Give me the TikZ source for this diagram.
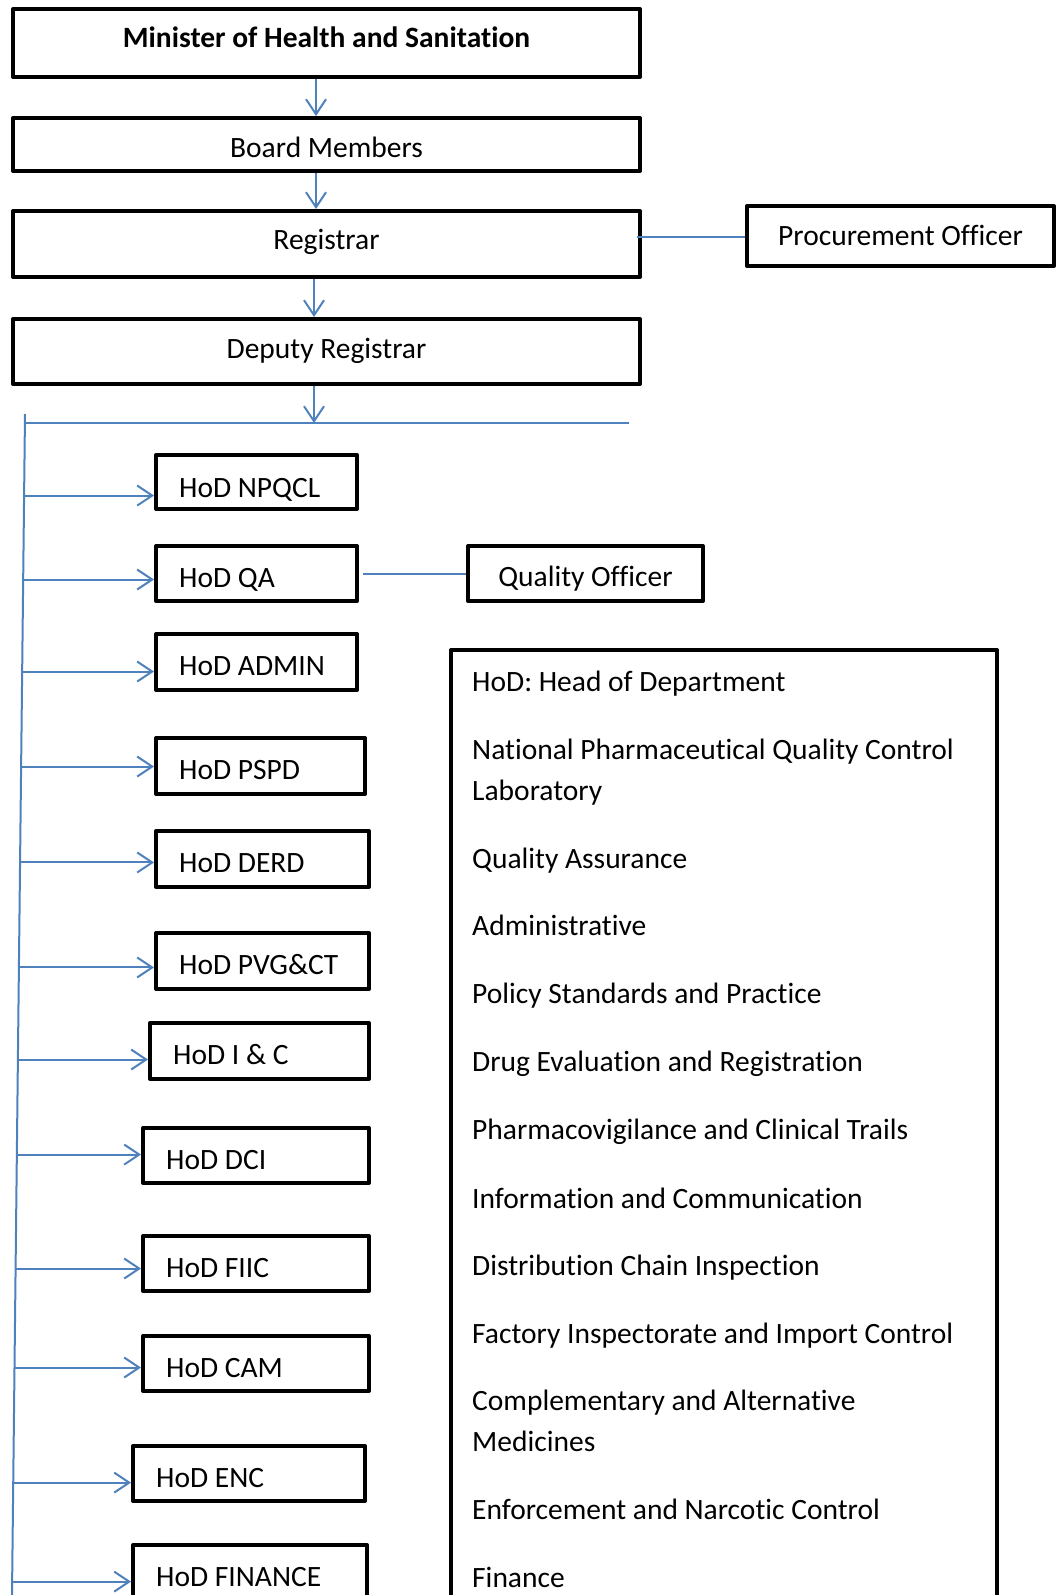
\documentclass[tikz,border=0pt]{standalone}
\usepackage{fontspec}
\setmainfont{Carlito}[Ligatures={NoCommon}]
\usetikzlibrary{arrows.meta,calc}
\definecolor{lineblue}{RGB}{79,129,189}
\begin{document}
\begin{tikzpicture}[x=1pt,y=-1pt,
  box/.style={draw=black, line width=4pt, line join=round, inner sep=0pt, anchor=north west},
  txt/.style={font=\fontsize{29.5}{35}\selectfont, inner sep=0pt},
  ctxt/.style={txt, anchor=base},
  ltxt/.style={txt, anchor=base west},
  conn/.style={draw=lineblue, line width=2pt},
  arr/.style={conn, -{Straight Barb[length=15pt,width=20pt]}}]
\useasboundingbox (0,0) rectangle (1058,1595);
\fill[white] (0,0) rectangle (1058,1595);

% top chain
\node[box, minimum width=627pt, minimum height=68pt] (min) at (11,7) {};
\node[ctxt, font=\fontsize{29.5}{35}\selectfont\bfseries] (tmin) at (326.5,48) {Minister of Health and Sanitation};
\node[box, minimum width=627pt, minimum height=53pt] (board) at (11,116) {};
\node[ctxt] (tboard) at (326.5,157) {Board Members};
\node[box, minimum width=627pt, minimum height=66pt] (reg) at (11,209) {};
\node[ctxt] (treg) at (326.5,249) {Registrar};
\node[box, minimum width=307pt, minimum height=60pt] (proc) at (745,204) {};
\node[ctxt] (tproc) at (900.5,245) {Procurement Officer};
\node[box, minimum width=627pt, minimum height=65pt] (dep) at (11,317) {};
\node[ctxt] (tdep) at (326.5,358) {Deputy Registrar};

\draw[arr] ([xshift=-10.5pt]min.south) -- ([xshift=-10.5pt]board.north);
\draw[arr] ([xshift=-10.5pt]board.south) -- ([xshift=-10.5pt]reg.north);
\draw[arr] ([xshift=-12.5pt]reg.south) -- ([xshift=-12.5pt]dep.north);
\draw[conn] ([yshift=7pt,xshift=-5pt]reg.east) -- ([yshift=7pt]reg.east -| proc.west);

% distribution lines
\coordinate (hl) at (25,423);
\coordinate (hr) at (629,423);
\coordinate (vt) at (25,414);
\coordinate (vb) at (12,1595);
\draw[conn] (hl) -- (hr);
\draw[conn] (vt) -- (vb);
\draw[arr] ([xshift=-12.5pt]dep.south) -- ([xshift=-12.5pt]dep.south |- hl);

% HoD boxes
\node[box, minimum width=201pt, minimum height=54pt] (npqcl) at (154,453) {};
\node[ltxt] (tnpqcl) at (179,497) {HoD NPQCL};
\node[box, minimum width=201pt, minimum height=55pt] (qa) at (154,544) {};
\node[ltxt] (tqa) at (179,587) {HoD QA};
\node[box, minimum width=235pt, minimum height=55pt] (qo) at (466,544) {};
\node[ctxt] (tqo) at (585.5,586) {Quality Officer};
\node[box, minimum width=201pt, minimum height=56pt] (admin) at (154,632) {};
\node[ltxt] (tadmin) at (179,675) {HoD ADMIN};
\node[box, minimum width=209pt, minimum height=56pt] (pspd) at (154,736) {};
\node[ltxt] (tpspd) at (179,779) {HoD PSPD};
\node[box, minimum width=213pt, minimum height=56pt] (derd) at (154,829) {};
\node[ltxt] (tderd) at (179,872) {HoD DERD};
\node[box, minimum width=213pt, minimum height=56pt] (pvg) at (154,931) {};
\node[ltxt] (tpvg) at (179,974) {HoD PVG\&CT};
\node[box, minimum width=219pt, minimum height=56pt] (ic) at (148,1021) {};
\node[ltxt] (tic) at (173,1064) {HoD I \& C};
\node[box, minimum width=226pt, minimum height=55pt] (dci) at (141,1126) {};
\node[ltxt] (tdci) at (166,1169) {HoD DCI};
\node[box, minimum width=226pt, minimum height=55pt] (fiic) at (141,1234) {};
\node[ltxt] (tfiic) at (166,1277) {HoD FIIC};
\node[box, minimum width=226pt, minimum height=55pt] (cam) at (141,1334) {};
\node[ltxt] (tcam) at (166,1377) {HoD CAM};
\node[box, minimum width=232pt, minimum height=55pt] (enc) at (131,1444) {};
\node[ltxt] (tenc) at (156,1487) {HoD ENC};
\node[box, minimum width=234pt, minimum height=55pt] (fin) at (131,1543) {};
\node[ltxt] (tfin) at (156,1586) {HoD FINANCE};

\draw[conn, shorten <=4pt] (qa.east) -- (qo.west);

% arrows from the vertical line
\foreach \b/\d in {npqcl/15, qa/7.5, admin/11, pspd/2, derd/5, pvg/8, ic/10, dci/0.5, fiic/6.5, cam/5.5, enc/10.5, fin/10.5}{
  \coordinate (f\b) at ($(vt)!([yshift=-\d pt]\b.west)!(vb)$);
  \draw[arr] (f\b) -- (f\b -| \b.west);
}

% legend
\node[box, minimum width=546pt, minimum height=951pt] (legend) at (449,648) {};
\node[ltxt] (l1) at (472,691) {HoD: Head of Department};
\node[ltxt] (l2) at (472,759) {National Pharmaceutical Quality Control};
\node[ltxt] (l3) at (472,800) {Laboratory};
\node[ltxt] (l4) at (472,868) {Quality Assurance};
\node[ltxt] (l5) at (472,935) {Administrative};
\node[ltxt] (l6) at (472,1003) {Policy Standards and Practice};
\node[ltxt] (l7) at (472,1071) {Drug Evaluation and Registration};
\node[ltxt] (l8) at (472,1139) {Pharmacovigilance and Clinical Trails};
\node[ltxt] (l9) at (472,1208) {Information and Communication};
\node[ltxt] (l10) at (472,1275) {Distribution Chain Inspection};
\node[ltxt] (l11) at (472,1343) {Factory Inspectorate and Import Control};
\node[ltxt] (l12) at (472,1410) {Complementary and Alternative};
\node[ltxt] (l13) at (472,1451) {Medicines};
\node[ltxt] (l14) at (472,1519) {Enforcement and Narcotic Control};
\node[ltxt] (l15) at (472,1587) {Finance};
\end{tikzpicture}
\end{document}
